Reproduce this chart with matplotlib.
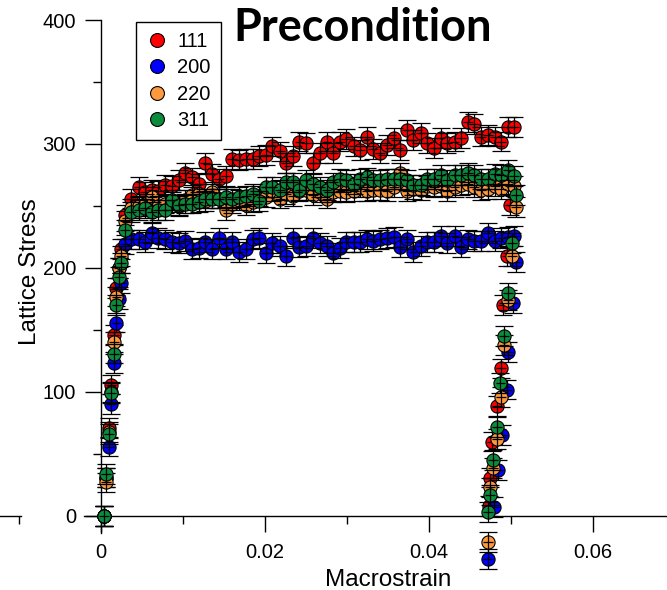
import matplotlib
matplotlib.use("Agg")
import matplotlib.pyplot as plt
from matplotlib.lines import Line2D
from matplotlib.ticker import FixedLocator

## Data ##
# shared macrostrain for loading + plateau
strain = [0.0004, 0.0006, 0.0010, 0.0012, 0.0016, 0.0019, 0.0022, 0.0024,
          0.0029, 0.0037, 0.0046, 0.0054, 0.0062, 0.0070, 0.0078, 0.0087, 0.0095, 0.0103,
          0.0111, 0.0119, 0.0127, 0.0136, 0.0144, 0.0152, 0.0160, 0.0168, 0.0177, 0.0185,
          0.0193, 0.0201, 0.0209, 0.0218, 0.0226, 0.0234, 0.0242, 0.0250, 0.0259, 0.0267,
          0.0275, 0.0283, 0.0291, 0.0299, 0.0308, 0.0316, 0.0324, 0.0332, 0.0340, 0.0349,
          0.0357, 0.0365, 0.0373, 0.0381, 0.0390, 0.0398, 0.0406, 0.0414, 0.0422, 0.0431,
          0.0439, 0.0447, 0.0455, 0.0463, 0.0472, 0.0480, 0.0488, 0.0496, 0.0504]

stress_111 = [0, 31, 71, 106, 146, 184, 200, 215,
              243, 256, 265, 261, 263, 262, 267, 266, 271, 277,
              273, 268, 285, 276, 272, 274, 288, 287, 288, 288,
              290, 291, 298, 294, 285, 290, 302, 301, 285, 293,
              302, 293, 302, 304, 298, 295, 306, 296, 293, 299,
              305, 295, 311, 303, 309, 301, 297, 305, 301, 302,
              305, 318, 316, 306, 307, 306, 302, 314, 314]
stress_200 = [0, 31, 56, 90, 123, 156, 175, 188,
              219, 223, 223, 221, 228, 224, 223, 221, 220, 222,
              215, 216, 221, 215, 224, 215, 221, 213, 215, 223,
              224, 212, 220, 218, 210, 224, 217, 218, 224, 220,
              218, 212, 216, 221, 221, 221, 223, 222, 223, 224,
              225, 217, 223, 213, 218, 221, 221, 226, 220, 226,
              217, 223, 222, 222, 228, 222, 224, 225, 226]
stress_220 = [0, 27, 68, 100, 140, 177, 200, 210,
              238, 248, 250, 252, 257, 250, 252, 253, 250, 255,
              259, 260, 254, 261, 256, 247, 252, 255, 251, 253,
              258, 257, 262, 256, 260, 258, 262, 263, 259, 261,
              256, 261, 262, 261, 262, 265, 262, 263, 263, 262,
              265, 277, 262, 264, 263, 266, 265, 266, 262, 265,
              267, 268, 265, 263, 264, 266, 264, 268, 266]
stress_311 = [0, 34, 66, 99, 131, 170, 193, 204,
              231, 245, 247, 248, 245, 247, 247, 255, 251, 252,
              252, 253, 256, 256, 256, 257, 256, 257, 258, 260,
              254, 265, 265, 263, 269, 269, 263, 271, 268, 265,
              263, 269, 272, 271, 268, 272, 273, 271, 271, 272,
              272, 272, 271, 267, 267, 272, 272, 275, 271, 275,
              275, 277, 275, 272, 272, 276, 275, 279, 274]

# unloading branch
unload_x_111 = [0.0499, 0.0495, 0.0490, 0.0488, 0.0483, 0.0477, 0.0474, 0.0473]
unload_y_111 = [251, 210, 170, 119, 89, 60, 31, 8]
unload_x_200 = [0.0506, 0.0502, 0.0496, 0.0495, 0.0489, 0.0484, 0.0479, 0.0472]
unload_y_200 = [205, 172, 132, 102, 65, 37, 7, -35]
unload_x_220 = [0.0506, 0.0501, 0.0496, 0.0491, 0.0488, 0.0483, 0.0478, 0.0474, 0.0472]
unload_y_220 = [249, 210, 174, 138, 96, 62, 39, 23, -21]
unload_x_311 = [0.0506, 0.0501, 0.0496, 0.0491, 0.0487, 0.0483, 0.0478, 0.0474, 0.0472]
unload_y_311 = [259, 220, 180, 145, 107, 72, 45, 17, 3]

labels = ["111", "200", "220", "311"]
err_stress = 8
err_strain = 0.0006

x_major = [0, 0.02, 0.04, 0.06]
x_major_labels = ["0", "0.02", "0.04", "0.06"]
x_minor = [-0.01, 0.01, 0.03, 0.05]
y_major = [0, 100, 200, 300, 400]
y_minor = [50, 150, 250, 350]

colors = ["#ff0000", "#0000ff", "#ff9a3c", "#0a8c3c"]

series = [
    (stress_111, unload_x_111, unload_y_111),
    (stress_200, unload_x_200, unload_y_200),
    (stress_220, unload_x_220, unload_y_220),
    (stress_311, unload_x_311, unload_y_311),
]

plt.rcParams["font.family"] = ["Liberation Sans", "DejaVu Sans"]

fig = plt.figure(figsize=(6.67, 5.90), dpi=100)
ax = fig.add_axes([0, 0, 1, 570 / 590])

for k, (ys, ux, uy) in enumerate(series):
    xs = strain + ux
    yy = ys + uy
    ax.plot(xs, yy, "o", ms=9.5, mfc=colors[k], mec="black", mew=0.8,
            zorder=2 + 2 * k)
    ax.errorbar(xs, yy, yerr=err_stress, fmt="none", ecolor="black",
                elinewidth=0.9, capsize=6.2, capthick=0.9, zorder=3 + 2 * k)
    ax.errorbar(xs, yy, xerr=err_strain, fmt="none", ecolor="black",
                elinewidth=0.9, capsize=0, zorder=3 + 2 * k)

ax.set_xlim(-0.0123, 0.069)
ax.set_ylim(-59.7, 400)

# axes crossing at the origin
ax.spines["left"].set_position(("data", 0))
ax.spines["bottom"].set_position(("data", 0))
ax.spines["right"].set_visible(False)
ax.spines["top"].set_visible(False)
ax.spines["left"].set_bounds(-14, 400)
ax.spines["bottom"].set_bounds(-0.0021, 0.069)
ax.plot([-0.0123, -0.0098], [0, 0], color="black", lw=1, clip_on=False)
for s in ["left", "bottom"]:
    ax.spines[s].set_linewidth(1)

ax.set_xticks(x_major)
ax.set_xticklabels(x_major_labels)
ax.xaxis.set_minor_locator(FixedLocator(x_minor))
ax.set_yticks(y_major)
ax.yaxis.set_minor_locator(FixedLocator(y_minor))
ax.tick_params(which="major", direction="out", length=11.5, width=1, pad=6.5,
               labelsize=14.5)
ax.tick_params(axis="x", which="major", pad=8)
ax.tick_params(which="minor", direction="out", length=5.8, width=1)

ax.set_xlabel("Macrostrain", fontsize=17.5)
ax.set_ylabel("Lattice Stress", fontsize=17.5)
ax.xaxis.set_label_coords(0.582, 0.036)
ax.yaxis.set_label_coords(0.062, 0.558)

handles = [Line2D([], [], ls="none", marker="o", ms=10, mfc=c, mec="black", mew=0.8)
           for c in colors]
leg = ax.legend(handles, labels, loc="upper left",
                bbox_to_anchor=(136 / 667, 1 - 22 / 590), bbox_transform=fig.transFigure,
                borderaxespad=0, fontsize=14.5, frameon=True, fancybox=False,
                handlelength=1.1, handletextpad=0.45, labelspacing=0.36, borderpad=0.5)
leg.get_frame().set_edgecolor("black")
leg.get_frame().set_linewidth(1)
leg.get_frame().set_alpha(1)
leg.set_zorder(20)

fig.text(0.543, 0.988, "Precondition", ha="center", va="top", fontsize=32.5,
         fontweight="bold", family=["Lato", "DejaVu Sans"])

fig.savefig("out.png", dpi=100)
